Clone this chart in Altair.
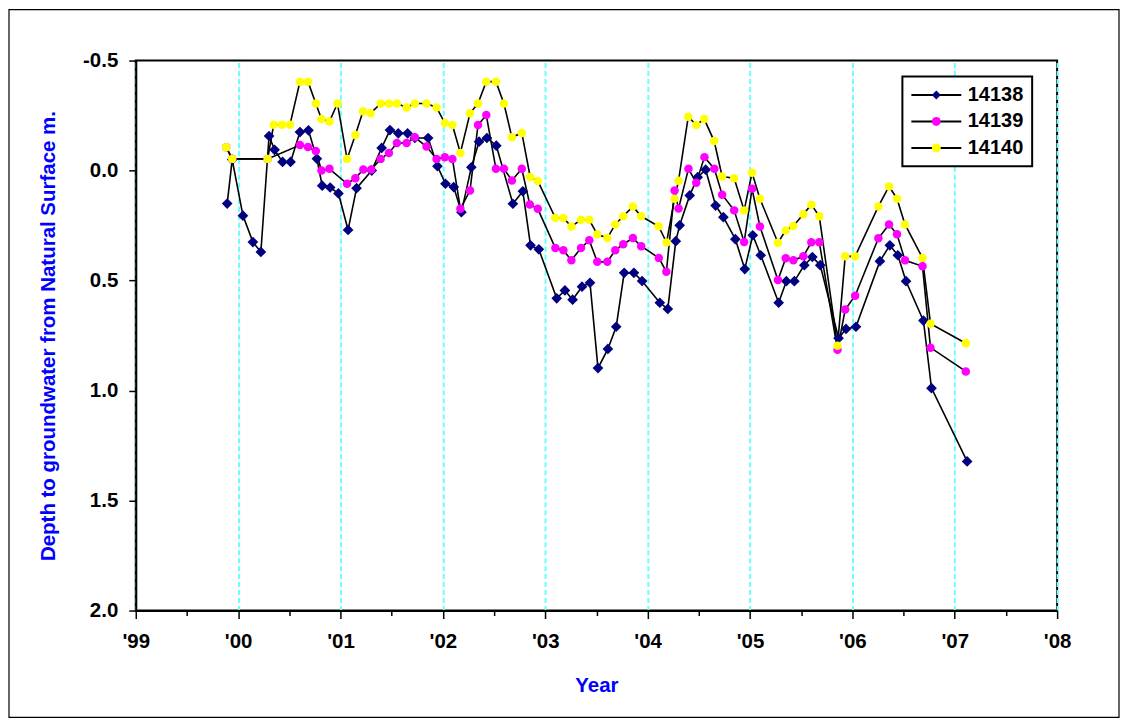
import altair as alt
import pandas as pd

wells = ["14138", "14139", "14140"]
colors = ["#000080", "#FF00FF", "#FFFF00"]
shapes = ["diamond", "circle", "circle"]

t_14138 = [1999.893, 1999.942, 2000.047, 2000.144, 2000.222, 2000.302, 2000.356, 2000.434, 2000.512,
           2000.604, 2000.687, 2000.769, 2000.821, 2000.899, 2000.980, 2001.074, 2001.157, 2001.305,
           2001.402, 2001.483, 2001.564, 2001.655, 2001.726, 2001.856, 2001.947, 2002.025, 2002.106,
           2002.181, 2002.278, 2002.353, 2002.430, 2002.522, 2002.684, 2002.781, 2002.856, 2002.937,
           2003.112, 2003.192, 2003.267, 2003.359, 2003.437, 2003.515, 2003.612, 2003.693, 2003.771,
           2003.866, 2003.946, 2004.119, 2004.197, 2004.275, 2004.313, 2004.411, 2004.489, 2004.567,
           2004.664, 2004.740, 2004.857, 2004.949, 2005.027, 2005.105, 2005.280, 2005.355, 2005.433,
           2005.531, 2005.609, 2005.686, 2005.865, 2005.938, 2006.035, 2006.269, 2006.366, 2006.444,
           2006.524, 2006.694, 2006.773, 2007.121]
d_14138 = [0.150, -0.050, 0.205, 0.325, 0.370, -0.157, -0.094, -0.039, -0.039,
           -0.175, -0.183, -0.054, 0.069, 0.077, 0.104, 0.270, 0.080, 0.000,
           -0.103, -0.184, -0.169, -0.169, -0.148, -0.148, -0.020, 0.060, 0.075,
           0.189, -0.015, -0.131, -0.148, -0.113, 0.151, 0.094, 0.340, 0.358,
           0.581, 0.545, 0.587, 0.528, 0.510, 0.898, 0.811, 0.710, 0.465,
           0.465, 0.502, 0.601, 0.629, 0.321, 0.249, 0.113, 0.030, -0.004,
           0.159, 0.212, 0.312, 0.448, 0.294, 0.385, 0.601, 0.503, 0.503,
           0.430, 0.393, 0.430, 0.762, 0.720, 0.710, 0.412, 0.340, 0.385,
           0.503, 0.682, 0.989, 1.322]

t_14139 = [1999.883, 1999.942, 2000.288, 2000.604, 2000.682, 2000.759, 2000.814, 2000.892, 2001.064,
           2001.145, 2001.223, 2001.301, 2001.392, 2001.473, 2001.551, 2001.646, 2001.726, 2001.840,
           2001.938, 2002.019, 2002.093, 2002.171, 2002.265, 2002.343, 2002.424, 2002.518, 2002.596,
           2002.674, 2002.771, 2002.849, 2002.927, 2003.099, 2003.177, 2003.255, 2003.349, 2003.430,
           2003.508, 2003.606, 2003.684, 2003.762, 2003.856, 2003.937, 2004.109, 2004.183, 2004.263,
           2004.302, 2004.399, 2004.475, 2004.555, 2004.652, 2004.728, 2004.845, 2004.943, 2005.020,
           2005.097, 2005.273, 2005.349, 2005.424, 2005.521, 2005.599, 2005.677, 2005.855, 2005.930,
           2006.027, 2006.254, 2006.358, 2006.436, 2006.514, 2006.685, 2006.763, 2007.108]
d_14139 = [-0.106, -0.053, -0.053, -0.116, -0.107, -0.089, 0.000, -0.008, 0.060,
           0.035, -0.005, -0.005, -0.053, -0.080, -0.125, -0.125, -0.151, -0.109,
           -0.053, -0.060, -0.053, 0.174, 0.091, -0.207, -0.252, -0.008, -0.008,
           0.045, -0.008, 0.154, 0.174, 0.352, 0.362, 0.408, 0.352, 0.317,
           0.415, 0.415, 0.362, 0.335, 0.307, 0.344, 0.397, 0.460, 0.091,
           0.173, -0.008, 0.055, -0.061, -0.008, 0.110, 0.181, 0.325, 0.083,
           0.254, 0.498, 0.399, 0.408, 0.390, 0.326, 0.326, 0.815, 0.632,
           0.569, 0.308, 0.245, 0.290, 0.408, 0.435, 0.805, 0.913]

t_14140 = [1999.883, 1999.942, 2000.288, 2000.347, 2000.428, 2000.506, 2000.604, 2000.682, 2000.759,
           2000.814, 2000.892, 2000.970, 2001.064, 2001.145, 2001.220, 2001.293, 2001.392, 2001.473,
           2001.551, 2001.646, 2001.726, 2001.840, 2001.938, 2002.019, 2002.093, 2002.171, 2002.265,
           2002.343, 2002.424, 2002.518, 2002.596, 2002.674, 2002.771, 2002.853, 2002.927, 2003.099,
           2003.177, 2003.255, 2003.349, 2003.430, 2003.508, 2003.606, 2003.684, 2003.762, 2003.856,
           2003.937, 2004.107, 2004.185, 2004.263, 2004.302, 2004.397, 2004.475, 2004.553, 2004.650,
           2004.728, 2004.845, 2004.943, 2005.020, 2005.097, 2005.273, 2005.349, 2005.424, 2005.521,
           2005.599, 2005.677, 2005.855, 2005.930, 2006.027, 2006.254, 2006.358, 2006.436, 2006.514,
           2006.685, 2006.763, 2007.108]
d_14140 = [-0.106, -0.053, -0.053, -0.208, -0.208, -0.208, -0.404, -0.404, -0.305,
           -0.234, -0.223, -0.305, -0.053, -0.162, -0.270, -0.260, -0.305, -0.305,
           -0.305, -0.287, -0.305, -0.305, -0.287, -0.216, -0.207, -0.080, -0.260,
           -0.305, -0.404, -0.404, -0.305, -0.151, -0.171, 0.029, 0.047, 0.216,
           0.216, 0.254, 0.224, 0.224, 0.290, 0.307, 0.245, 0.208, 0.163,
           0.208, 0.253, 0.327, 0.128, 0.046, -0.245, -0.207, -0.234, -0.134,
           0.027, 0.035, 0.181, 0.010, 0.128, 0.328, 0.272, 0.252, 0.199,
           0.155, 0.208, 0.796, 0.390, 0.390, 0.163, 0.072, 0.128, 0.245,
           0.397, 0.696, 0.785]

x_ticks = [1999, 1999.5, 2000, 2000.5, 2001, 2001.5, 2002, 2002.5, 2003, 2003.5, 2004, 2004.5,
           2005, 2005.5, 2006, 2006.5, 2007, 2007.5, 2008]
y_ticks = [-0.5, 0.0, 0.5, 1.0, 1.5, 2.0]

rows = []
for w, ts, ds in zip(wells, [t_14138, t_14139, t_14140], [d_14138, d_14139, d_14140]):
    for t, d in zip(ts, ds):
        rows.append({"t": t, "depth": d, "well": w, "wl": w})
df = pd.DataFrame(rows)

FONT = "Liberation Sans"

x_enc = alt.X(
    "t:Q",
    scale=alt.Scale(domain=[1999, 2008], nice=False, zero=False),
    axis=alt.Axis(
        title="Year",
        values=x_ticks,
        labelExpr="datum.value % 1 == 0 ? \"'\" + format(datum.value % 100, '02d') : ''",
        grid=True,
        gridColor="#66FFFF",
        gridDash=[5, 3],
        gridWidth=2,
        gridOpacity={"condition": {"test": "datum.value % 1 == 0", "value": 1}, "value": 0},
        tickSize={"condition": {"test": "datum.value % 1 == 0", "value": 8}, "value": 5},
        labelPadding=13,
        titlePadding=24,
        labelFlush=False,
        labelOverlap=False,
    ),
)
y_enc = alt.Y(
    "depth:Q",
    scale=alt.Scale(domain=[-0.5, 2.0], reverse=True, nice=False, zero=False),
    axis=alt.Axis(
        title="Depth to groundwater from Natural Surface m.",
        values=y_ticks,
        labelExpr="datum.value < 0 ? '-' + format(-datum.value, '.1f') : format(datum.value, '.1f')",
        grid=False,
        tickSize=7,
        labelPadding=11,
        titlePadding=24,
        labelFlush=False,
        labelOverlap=False,
    ),
)

leg_common = dict(
    title=None,
    orient="none",
    legendX=768,
    legendY=16,
    symbolOffset=15.5,
    labelOffset=21.5,
    labelFont=FONT,
    labelFontSize=20,
    labelFontWeight="bold",
    labelColor="black",
    padding=8.5,
    rowPadding=6.5,
    labelLimit=300,
)

legend_lines = alt.Legend(
    symbolType="M-5,0L5,0",
    symbolSize=100,
    symbolStrokeWidth=2,
    strokeColor="black",
    fillColor="white",
    **leg_common,
)
legend_points = alt.Legend(
    symbolSize=80,
    symbolStrokeWidth=0,
    labelOpacity=0,
    **leg_common,
)

border = alt.Chart(alt.Data(values=[{"a": 1}])).mark_rect(
    filled=False, stroke="black", strokeWidth=1.2
).encode(
    x=alt.value(-127), x2=alt.value(985), y=alt.value(-51), y2=alt.value(658)
)

lines = alt.Chart(df).mark_line(strokeWidth=1.6).encode(
    x=x_enc,
    y=y_enc,
    color=alt.Color("wl:N", scale=alt.Scale(range=["black", "black", "black"]), legend=legend_lines),
    order="t:Q",
)

point_enc = dict(
    x=x_enc,
    y=y_enc,
    fill=alt.Fill("well:N", scale=alt.Scale(domain=wells, range=colors), legend=legend_points),
    shape=alt.Shape("well:N", scale=alt.Scale(domain=wells, range=shapes), legend=legend_points),
)

points_d = alt.Chart(df).transform_filter(
    alt.datum.well == wells[0]
).mark_point(filled=True, opacity=1, strokeWidth=0, size=115).encode(**point_enc)

points_c = alt.Chart(df).transform_filter(
    alt.datum.well != wells[0]
).mark_point(filled=True, opacity=1, strokeWidth=0, size=72).encode(**point_enc)

chart = alt.layer(border, lines, points_d, points_c).properties(
    width=923, height=551, padding=0, background="white"
).configure_view(
    stroke="black", strokeWidth=2
).configure_axis(
    domainColor="black",
    domainWidth=2,
    tickColor="black",
    tickWidth=1.5,
    labelFont=FONT,
    labelFontSize=20.5,
    labelFontWeight="bold",
    labelColor="black",
    titleFont=FONT,
    titleFontSize=20.5,
    titleFontWeight="bold",
    titleColor="#0000FF",
).configure_legend(
    strokeWidth=2
)

chart.save("out.html", embed_options={"renderer": "svg", "actions": False})
